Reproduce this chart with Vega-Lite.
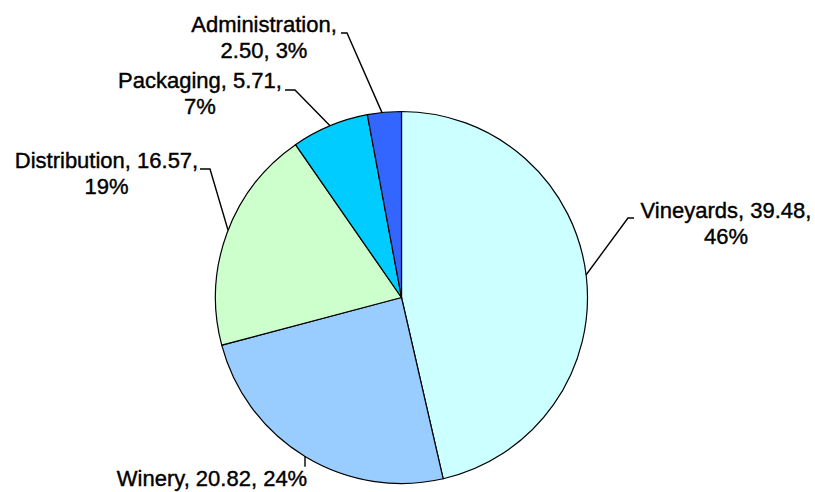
{
  "$schema": "https://vega.github.io/schema/vega-lite/v6.json",
  "width": 815,
  "height": 492,
  "padding": 0,
  "autosize": {"type": "none"},
  "background": "white",
  "config": {"view": {"stroke": null}},
  "datasets": {
    "slices": [
      {"category": "Vineyards", "value": 39.48, "idx": 1, "cx": 0, "cy": 0},
      {"category": "Winery", "value": 20.82, "idx": 2, "cx": 0, "cy": 0},
      {"category": "Distribution", "value": 16.57, "idx": 3, "cx": 0, "cy": 0},
      {"category": "Packaging", "value": 5.71, "idx": 4, "cx": 0, "cy": 0},
      {"category": "Administration", "value": 2.50, "idx": 5, "cx": 0, "cy": 0}
    ],
    "labels": [
      {"category": "Vineyards", "label": ["Vineyards, 39.48,", "46%"], "lx": 1.7446, "ly": 0.4664},
      {"category": "Winery", "label": ["Winery, 20.82, 24%"], "lx": -1.0188, "ly": -0.9758},
      {"category": "Distribution", "label": ["Distribution, 16.57,", "19%"], "lx": -1.586, "ly": 0.7365},
      {"category": "Packaging", "label": ["Packaging, 5.71,", "7%"], "lx": -1.0833, "ly": 1.1653},
      {"category": "Administration", "label": ["Administration,", "2.50, 3%"], "lx": -0.7392, "ly": 1.4664}
    ],
    "leaders": [
      {"category": "Vineyards", "seq": 1, "px": 1.25, "py": 0.4274},
      {"category": "Vineyards", "seq": 2, "px": 1.2177, "py": 0.4274},
      {"category": "Vineyards", "seq": 3, "px": 0.9919, "py": 0.121},
      {"category": "Winery", "seq": 1, "px": -0.5188, "py": -0.9097},
      {"category": "Winery", "seq": 2, "px": -0.5188, "py": -0.8522},
      {"category": "Distribution", "seq": 1, "px": -1.0833, "py": 0.6909},
      {"category": "Distribution", "seq": 2, "px": -1.0296, "py": 0.6909},
      {"category": "Distribution", "seq": 3, "px": -0.9328, "py": 0.3629},
      {"category": "Packaging", "seq": 1, "px": -0.6263, "py": 1.1156},
      {"category": "Packaging", "seq": 2, "px": -0.5726, "py": 1.1156},
      {"category": "Packaging", "seq": 3, "px": -0.3844, "py": 0.923},
      {"category": "Administration", "seq": 1, "px": -0.3253, "py": 1.422},
      {"category": "Administration", "seq": 2, "px": -0.293, "py": 1.422},
      {"category": "Administration", "seq": 3, "px": -0.1048, "py": 0.994}
    ]
  },
  "layer": [
    {
      "data": {"name": "slices"},
      "mark": {"type": "arc", "outerRadius": 186, "stroke": "#000000", "strokeWidth": 1.2},
      "encoding": {
        "theta": {"field": "value", "type": "quantitative", "stack": true},
        "order": {"field": "idx", "type": "quantitative"},
        "color": {
          "field": "category",
          "type": "nominal",
          "scale": {
            "domain": ["Vineyards", "Winery", "Distribution", "Packaging", "Administration"],
            "range": ["#CCFFFF", "#99CCFF", "#CCFFCC", "#00CCFF", "#3366FF"]
          },
          "legend": null
        },
        "x": {"field": "cx", "type": "quantitative", "scale": {"domain": [-2.1586, 2.2231], "nice": false, "zero": false}, "axis": null},
        "y": {"field": "cy", "type": "quantitative", "scale": {"domain": [-1.0457, 1.5995], "nice": false, "zero": false}, "axis": null}
      }
    },
    {
      "data": {"name": "leaders"},
      "mark": {"type": "line", "color": "#000000", "strokeWidth": 1.4},
      "encoding": {
        "x": {"field": "px", "type": "quantitative", "axis": null},
        "y": {"field": "py", "type": "quantitative", "axis": null},
        "detail": {"field": "category", "type": "nominal"},
        "order": {"field": "seq", "type": "quantitative"}
      }
    },
    {
      "data": {"name": "labels"},
      "mark": {"type": "text", "font": "Liberation Sans", "fontSize": 22, "lineHeight": 26.5, "align": "center", "baseline": "middle", "color": "#000000", "stroke": "#000000", "strokeWidth": 0.4},
      "encoding": {
        "x": {"field": "lx", "type": "quantitative", "axis": null},
        "y": {"field": "ly", "type": "quantitative", "axis": null},
        "text": {"field": "label", "type": "nominal"}
      }
    }
  ]
}
